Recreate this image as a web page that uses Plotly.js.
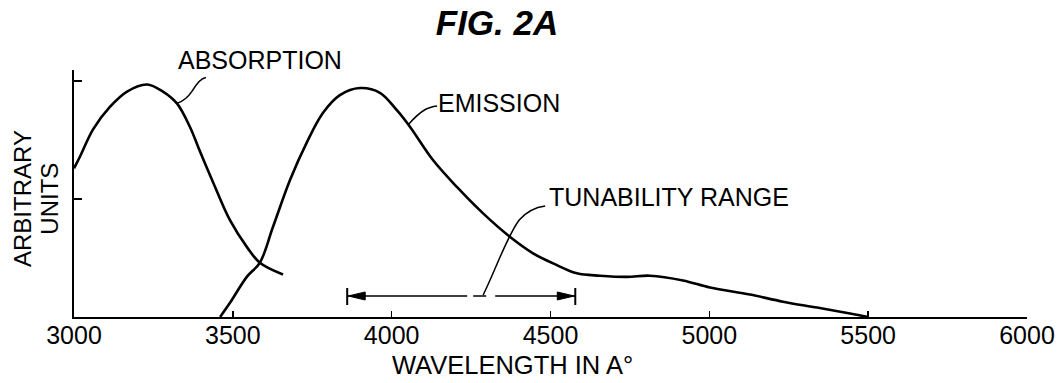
<!DOCTYPE html>
<html>
<head>
<meta charset="utf-8">
<script src="https://cdn.plot.ly/plotly-3.0.1.min.js"></script>
<style>html,body{margin:0;padding:0;background:#fff;}#chart{width:1062px;height:383px;}</style>
</head>
<body>
<div id="chart"></div>
<script>
// ---- data ----
const absWavelength = [3000, 3019, 3060, 3113, 3167, 3230, 3280, 3324, 3365, 3397, 3438, 3491, 3545, 3585, 3658];
const absorption    = [1.26, 1.36, 1.59, 1.78, 1.91, 1.97, 1.91, 1.81, 1.61, 1.40, 1.14, 0.82, 0.59, 0.46, 0.36];

const emWavelength = [3460, 3491, 3544, 3585, 3626, 3680, 3733, 3784, 3837, 3900, 3963, 4017, 4058, 4130, 4206, 4287, 4372, 4445, 4520, 4583, 4656, 4741, 4813, 4917, 5002, 5128, 5232, 5339, 5443, 5500];
const emission     = [0.00, 0.12, 0.34, 0.46, 0.76, 1.16, 1.48, 1.73, 1.88, 1.94, 1.90, 1.75, 1.61, 1.33, 1.10, 0.88, 0.68, 0.54, 0.44, 0.37, 0.35, 0.34, 0.35, 0.31, 0.25, 0.19, 0.13, 0.08, 0.03, 0.00];

const tunability = [3860, 4578];           // tunability range end points (Å)
const xTicks = [3000, 3500, 4000, 4500, 5000, 5500, 6000];
const xTickLabels = ['3000', '3500', '4000', '4500', '5000', '5500', '6000'];
const yTicks = [1, 2];

const labels = {
  title: 'FIG. 2A',
  absorption: 'ABSORPTION',
  emission: 'EMISSION',
  range: 'TUNABILITY RANGE',
  xTitle: 'WAVELENGTH IN A°',
  yTitle1: 'ARBITRARY',
  yTitle2: 'UNITS'
};

// ---- styling ----
const FONT = 'Liberation Sans, Arial, sans-serif';
const INK = '#000';
const rangeLevel = 0.178;

const curveLine = {color: INK, width: 2.6, shape: 'spline', smoothing: 1};

const traces = [
  {x: absWavelength, y: absorption, mode: 'lines', line: curveLine, hoverinfo: 'skip', name: 'Absorption'},
  {x: emWavelength, y: emission, mode: 'lines', line: curveLine, hoverinfo: 'skip', name: 'Emission'},
  {x: tunability, y: [rangeLevel, rangeLevel], mode: 'lines',
   line: {color: INK, width: 1.6, dash: '120px,6px,13px,9px,90px,40px'}, hoverinfo: 'skip', name: 'Tunability'}
];

const iAbsLeader = 7;
const iEmLeader = 12;

const shapes = [
  // end bars of tunability range
  {type: 'line', xref: 'x', yref: 'y', x0: tunability[0], x1: tunability[0], ysizemode: 'pixel', yanchor: rangeLevel, y0: -9, y1: 8, line: {color: INK, width: 2}},
  {type: 'line', xref: 'x', yref: 'y', x0: tunability[1], x1: tunability[1], ysizemode: 'pixel', yanchor: rangeLevel, y0: -9, y1: 8, line: {color: INK, width: 2}},
  // arrowheads
  {type: 'path', xref: 'x', yref: 'y', xsizemode: 'pixel', ysizemode: 'pixel', xanchor: tunability[0], yanchor: rangeLevel,
   path: 'M1,0 L18,4 L18,-4 Z', fillcolor: INK, line: {color: INK, width: 1}},
  {type: 'path', xref: 'x', yref: 'y', xsizemode: 'pixel', ysizemode: 'pixel', xanchor: tunability[1], yanchor: rangeLevel,
   path: 'M-1,0 L-18,4 L-18,-4 Z', fillcolor: INK, line: {color: INK, width: 1}},
  // label leaders
  {type: 'path', xref: 'x', yref: 'y', xsizemode: 'pixel', ysizemode: 'pixel', xanchor: absWavelength[iAbsLeader], yanchor: absorption[iAbsLeader],
   path: 'M0,0 C6,2 11,6 15,12 C19,19 23,25 29,26', line: {color: INK, width: 1.5}},
  {type: 'path', xref: 'x', yref: 'y', xsizemode: 'pixel', ysizemode: 'pixel', xanchor: emWavelength[iEmLeader], yanchor: emission[iEmLeader],
   path: 'M-2,2 C3,8 9,14 16,18 C21,20 24,21 27,21', line: {color: INK, width: 1.5}},
  {type: 'path', xref: 'x', yref: 'y', xsizemode: 'pixel', ysizemode: 'pixel', xanchor: tunability[0], yanchor: rangeLevel,
   path: 'M136,1 C150,30 160,60 172,76 C180,85 190,89 198,90', line: {color: INK, width: 1.5}}
];

const labelFont = {family: FONT, size: 25, color: INK};
const axisTitleFont = {family: FONT, size: 25.5, color: INK};
const yTitleFont = {family: FONT, size: 24, color: INK};

const annotations = [
  {text: labels.absorption, xref: 'x', yref: 'paper', x: 3320, y: 1.04, xanchor: 'left', yanchor: 'middle', showarrow: false, font: labelFont},
  {text: labels.emission, xref: 'x', yref: 'y', x: 4138, y: 1.81, xanchor: 'left', yanchor: 'middle', showarrow: false, font: labelFont},
  {text: labels.range, xref: 'x', yref: 'y', x: 4488, y: 1.02, xanchor: 'left', yanchor: 'middle', showarrow: false, font: labelFont},
  {text: labels.xTitle, xref: 'paper', yref: 'paper', x: 0.46, y: -0.195, xanchor: 'center', yanchor: 'middle', showarrow: false, font: axisTitleFont},
  {text: labels.yTitle1, xref: 'paper', yref: 'paper', x: -0.054, y: 0.48, xanchor: 'center', yanchor: 'middle', textangle: -90, showarrow: false, font: yTitleFont},
  {text: labels.yTitle2, xref: 'paper', yref: 'paper', x: -0.026, y: 0.48, xanchor: 'center', yanchor: 'middle', textangle: -90, showarrow: false, font: yTitleFont}
];

const layout = {
  width: 1062, height: 383,
  margin: {l: 74, r: 35, t: 70, b: 66},
  paper_bgcolor: '#fff', plot_bgcolor: '#fff',
  showlegend: false,
  title: {text: labels.title, xref: 'container', yref: 'container', x: 0.468, y: 0.94, xanchor: 'center', yanchor: 'middle',
          font: {family: FONT, size: 35, weight: 'bold', style: 'italic', color: INK}},
  xaxis: {range: [3000, 6000], tickvals: xTicks, ticktext: xTickLabels, ticks: 'inside', ticklen: 6, tickwidth: 1.5, tickcolor: INK,
          ticklabelstandoff: -5,
          showline: true, linewidth: 2, linecolor: INK, showgrid: false, zeroline: false,
          tickfont: {family: FONT, size: 25, color: INK}, fixedrange: true},
  yaxis: {range: [0, 2.093], tickvals: yTicks, ticks: 'inside', ticklen: 8, tickwidth: 1.5, tickcolor: INK, showticklabels: false,
          showline: true, linewidth: 2, linecolor: INK, showgrid: false, zeroline: false, fixedrange: true},
  shapes: shapes,
  annotations: annotations
};

Plotly.newPlot('chart', traces, layout, {staticPlot: true, displayModeBar: false});
</script>
</body>
</html>
